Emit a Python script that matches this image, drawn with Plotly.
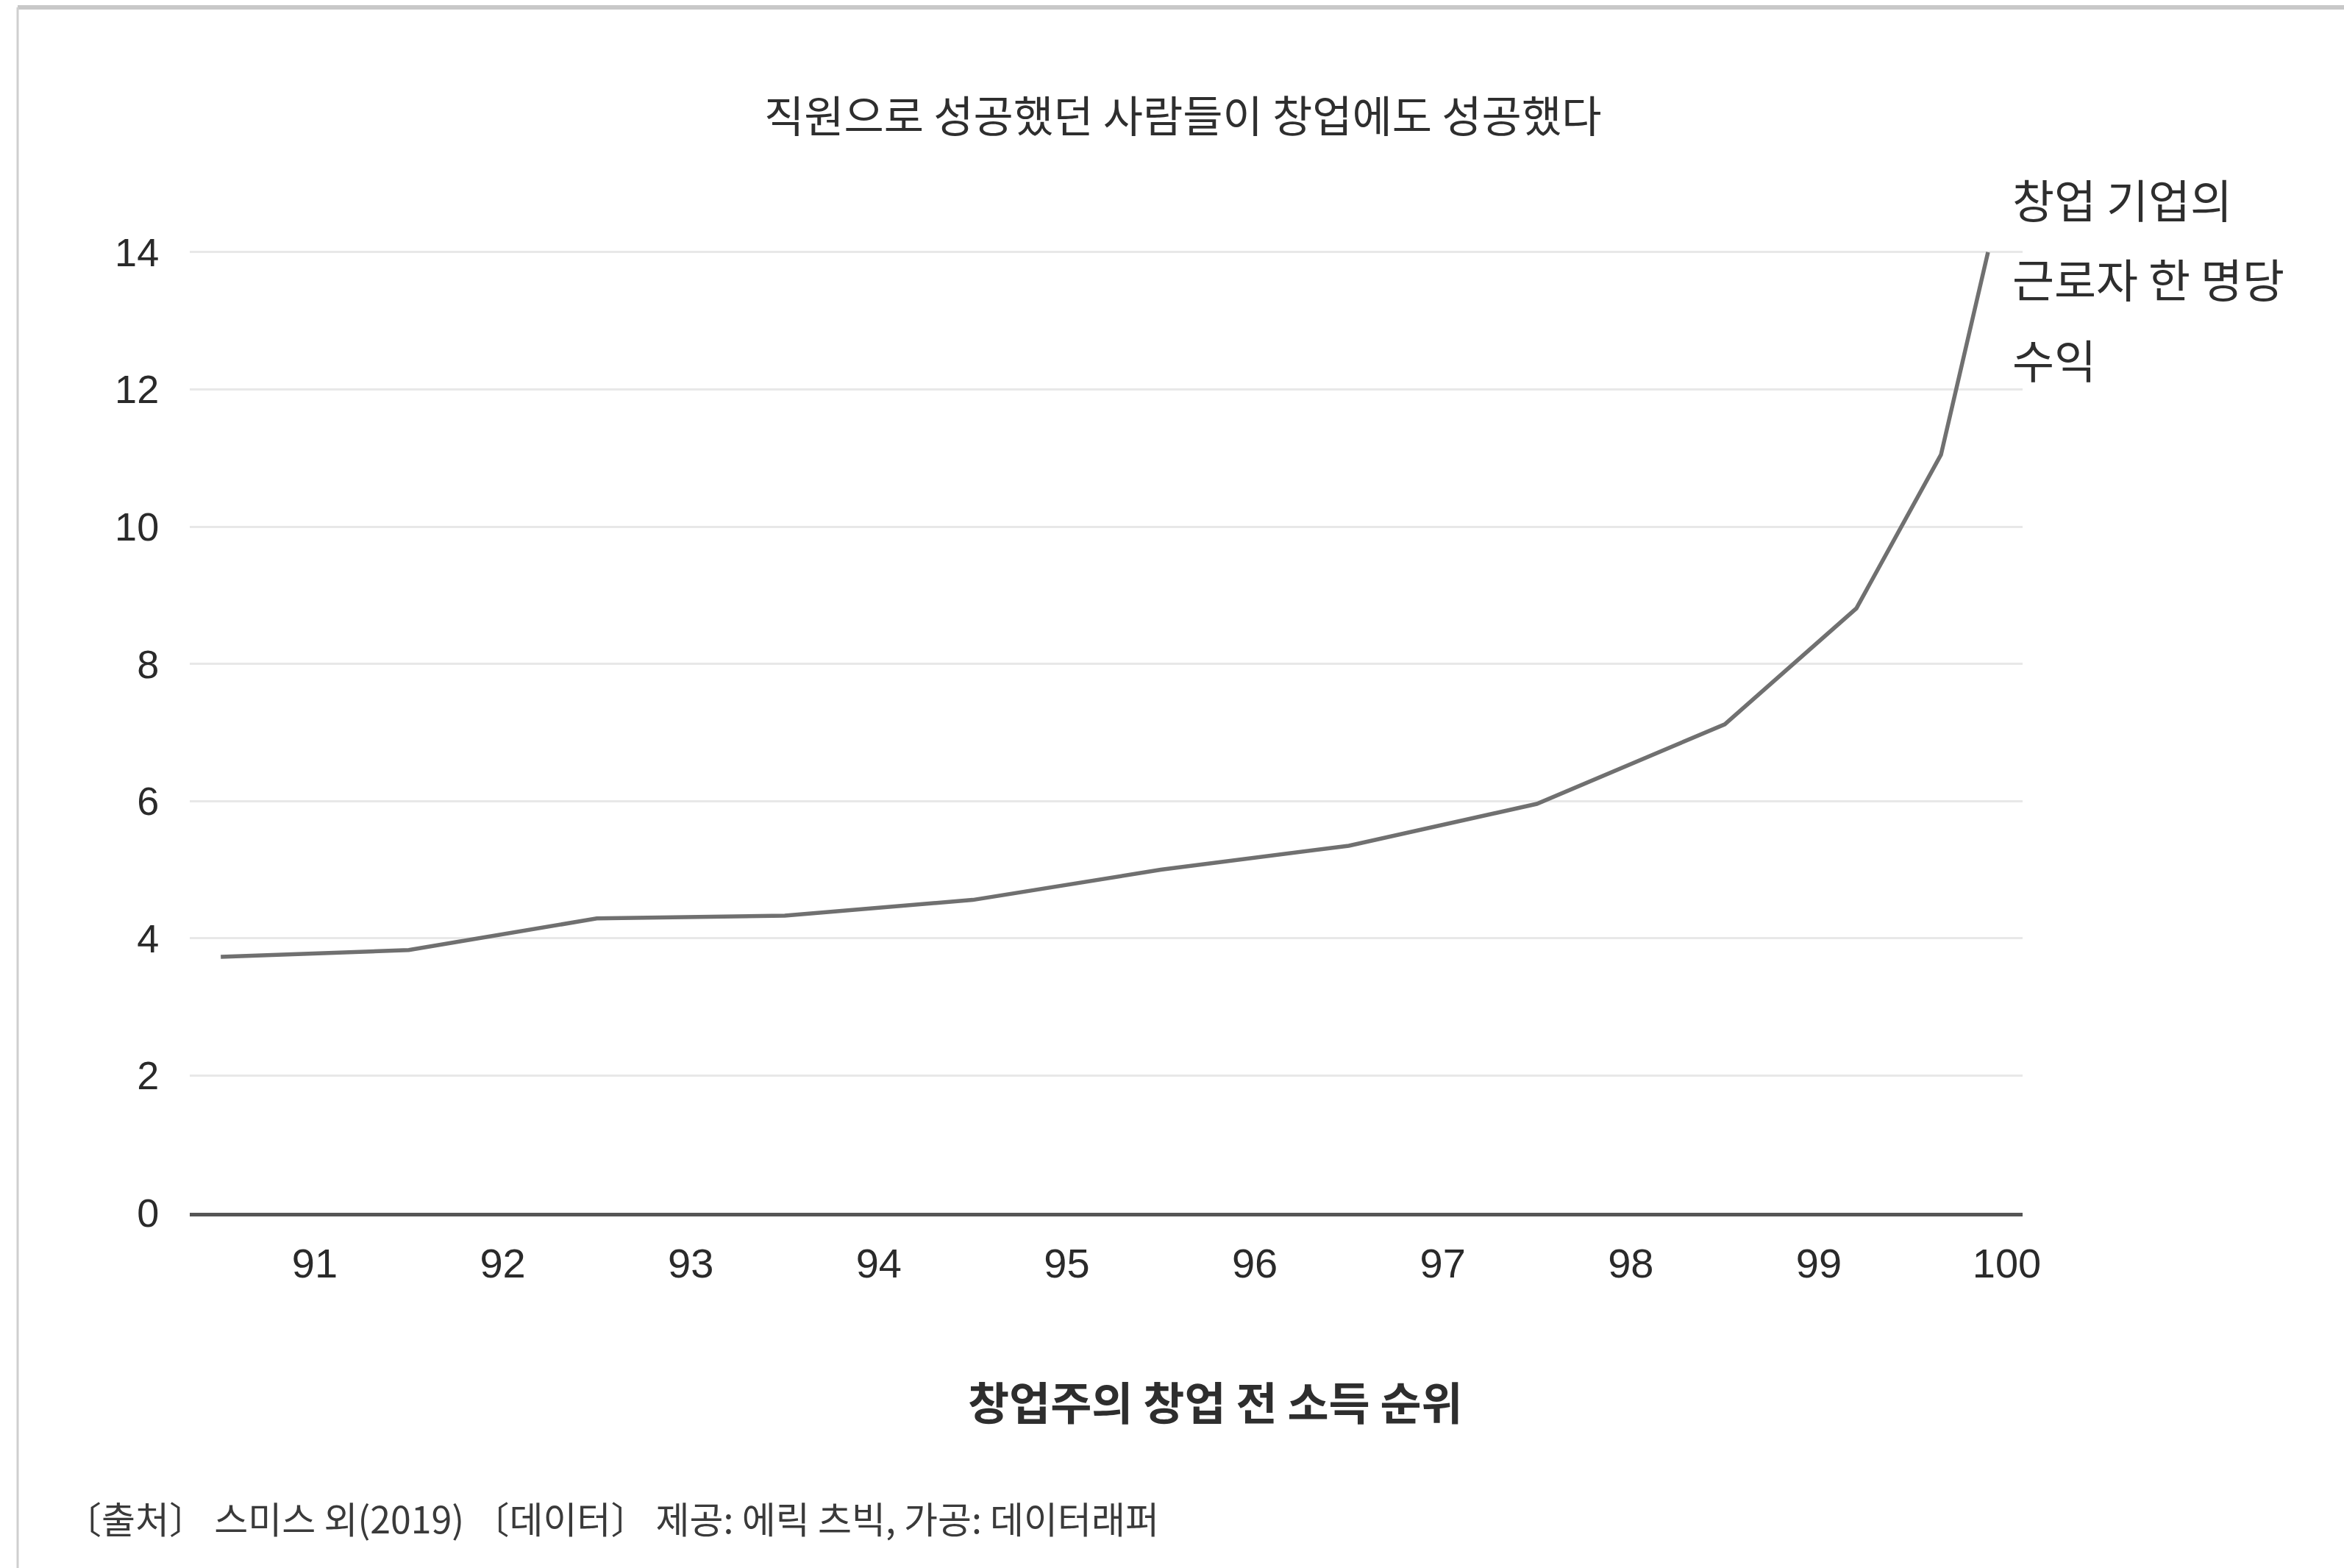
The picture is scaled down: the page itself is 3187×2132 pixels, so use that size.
import plotly.graph_objects as go

# Data
rank = [90.5, 91.5, 92.5, 93.5, 94.5, 95.5, 96.5, 97.5, 98.5, 99.2, 99.65, 99.9]
revenue = [3.73, 3.83, 4.29, 4.33, 4.56, 5.0, 5.35, 5.96, 7.12, 8.81, 11.05, 14.0]
x_ticks = [91, 92, 93, 94, 95, 96, 97, 98, 99, 100]
y_ticks = [0, 2, 4, 6, 8, 10, 12, 14]

title_text = "직원으로 성공했던 사람들이 창업에도 성공했다"
series_label = ["창업 기업의", "근로자 한 명당", "수익"]
x_title = "창업주의 창업 전 소득 순위"
footer = "〔출처〕 스미스 외(2019) 〔데이터〕 제공: 에릭 츠빅, 가공: 데이터래퍼"

W, H = 3187, 2132
L, R, T, B = 258, 437, 315, 483
PW, PH = W - L - R, H - T - B

def px_x(p):
    return (p - L) / PW

def px_y(p):
    return (H - B - p) / PH

KR = "Noto Sans CJK KR"
NUM = "Liberation Sans, Arial, sans-serif"

fig = go.Figure()
fig.add_trace(go.Scatter(
    x=rank, y=revenue, mode="lines",
    line=dict(color="#707070", width=5.5),
    hoverinfo="skip", showlegend=False,
))

fig.update_layout(
    width=W, height=H,
    margin=dict(l=L, r=R, t=T, b=B),
    paper_bgcolor="white", plot_bgcolor="white",
    showlegend=False,
)
fig.update_xaxes(
    range=[90.335, 100.084], tickvals=x_ticks, ticktext=[str(v) for v in x_ticks],
    showgrid=False, zeroline=False,
    showline=True, linecolor="#555555", linewidth=5,
    ticks="outside", ticklen=16, tickcolor="rgba(0,0,0,0)",
    tickfont=dict(family=NUM, size=56, color="#2a2a2a"),
)
fig.update_yaxes(
    range=[0, 14.3], tickvals=y_ticks, ticktext=[str(v) for v in y_ticks],
    showgrid=True, gridcolor="#e8e8e8", gridwidth=3,
    zeroline=False, showline=False,
    ticks="outside", ticklen=30, tickcolor="rgba(0,0,0,0)",
    tickfont=dict(family=NUM, size=54, color="#2a2a2a"),
)

ann = []
ann.append(dict(text=title_text, x=px_x(1608), y=px_y(155), xref="paper", yref="paper",
                xanchor="center", yanchor="middle", showarrow=False,
                font=dict(family=KR, size=59, color="#2e2e2e")))
for txt, py in zip(series_label, [270, 378, 488]):
    ann.append(dict(text=txt, x=px_x(2734), y=px_y(py), xref="paper", yref="paper",
                    xanchor="left", yanchor="middle", showarrow=False,
                    font=dict(family=KR, size=62, color="#2e2e2e")))
ann.append(dict(text="<b>" + x_title + "</b>", x=px_x(1652), y=px_y(1905), xref="paper", yref="paper",
                xanchor="center", yanchor="middle", showarrow=False,
                font=dict(family=KR, size=61, color="#2e2e2e")))
ann.append(dict(text=footer, x=px_x(86), y=px_y(2063), xref="paper", yref="paper",
                xanchor="left", yanchor="middle", showarrow=False,
                font=dict(family=KR, size=50, color="#3a3a3a")))
fig.update_layout(annotations=ann)

# frame border (top and left edges of the screenshot box)
fig.add_shape(type="line", xref="paper", yref="paper",
              x0=px_x(24), x1=px_x(W + 20), y0=px_y(10), y1=px_y(10),
              line=dict(color="#c8c8c8", width=6))
fig.add_shape(type="line", xref="paper", yref="paper",
              x0=px_x(24), x1=px_x(24), y0=px_y(10), y1=px_y(H + 20),
              line=dict(color="#cfcfcf", width=3))

fig.write_html("out.html", config={"displayModeBar": False},
               post_script="document.body.style.margin='0';")
